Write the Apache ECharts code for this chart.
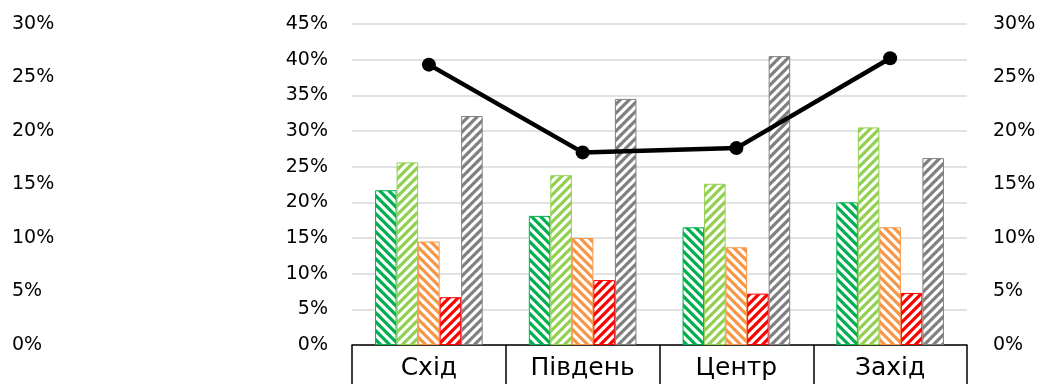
<!DOCTYPE html>
<html>
<head>
<meta charset="utf-8">
<script src="https://cdn.jsdelivr.net/npm/echarts@6/dist/echarts.min.js"></script>
<style>
html,body{margin:0;padding:0;background:#fff;}
#chart{width:1040px;height:384px;}
</style>
</head>
<body>
<div id="chart"></div>
<script>
const categories = ['Схід', 'Південь', 'Центр', 'Захід'];
const seriesGreen = [21.7, 18.1, 16.5, 20.0];
const seriesLightGreen = [25.6, 23.8, 22.6, 30.5];
const seriesOrange = [14.5, 15.0, 13.7, 16.5];
const seriesRed = [6.7, 9.1, 7.2, 7.3];
const seriesGray = [32.1, 34.5, 40.5, 26.2];
const lineValues = [26.2, 18.0, 18.4, 26.8];
const ticks30 = [0, 5, 10, 15, 20, 25, 30];
const ticks45 = [0, 5, 10, 15, 20, 25, 30, 35, 40, 45];

function hatch(color, dir) {
  const s = 9;
  const c = document.createElement('canvas');
  c.width = s; c.height = s;
  const g = c.getContext('2d');
  g.fillStyle = '#fff';
  g.fillRect(0, 0, s, s);
  g.strokeStyle = color;
  g.lineWidth = 3.2;
  g.beginPath();
  if (dir === '/') {
    g.moveTo(-1, s + 1); g.lineTo(s + 1, -1);
    g.moveTo(-s - 1, s + 1); g.lineTo(1, -1);
    g.moveTo(s - 1, s + 1); g.lineTo(2 * s + 1, -1);
  } else {
    g.moveTo(-1, -1); g.lineTo(s + 1, s + 1);
    g.moveTo(-s - 1, -1); g.lineTo(1, s + 1);
    g.moveTo(s - 1, -1); g.lineTo(2 * s + 1, s + 1);
  }
  g.stroke();
  return { image: c, repeat: 'repeat' };
}

const font = 'DejaVu Sans';
const labelStyle = { fontFamily: font, fontSize: 19, color: '#000', formatter: '{value}%' };

function bar(data, color, dir) {
  return {
    type: 'bar', yAxisIndex: 1, data: data,
    barGap: '0%', barCategoryGap: '30%',
    itemStyle: { color: hatch(color, dir), borderColor: color, borderWidth: 1 }
  };
}

const chart = echarts.init(document.getElementById('chart'), null, { renderer: 'canvas' });
chart.setOption({
  animation: false,
  grid: { left: 352, right: 73, top: 24, bottom: 39, containLabel: false },
  xAxis: {
    type: 'category', data: categories,
    axisLine: { show: true, lineStyle: { color: '#000', width: 1.5 } },
    axisTick: { show: true, length: 50, lineStyle: { color: '#000', width: 1.5 } },
    axisLabel: { fontFamily: font, fontSize: 25, color: '#000', margin: 11 }
  },
  yAxis: [
    { type: 'value', min: 0, max: 30, interval: 5, position: 'left',
      axisLine: { show: false }, axisTick: { show: false }, splitLine: { show: false },
      axisLabel: Object.assign({}, labelStyle, { align: 'left', margin: 340 }) },
    { type: 'value', min: 0, max: 45, interval: 5, position: 'left',
      axisLine: { show: false }, axisTick: { show: false },
      splitLine: { show: true, lineStyle: { color: '#d9d9d9', width: 1.5 } },
      axisLabel: Object.assign({}, labelStyle, { margin: 24 }) },
    { type: 'value', min: 0, max: 30, interval: 5, position: 'right',
      axisLine: { show: false }, axisTick: { show: false }, splitLine: { show: false },
      axisLabel: Object.assign({}, labelStyle, { align: 'left', margin: 26 }) }
  ],
  series: [
    bar(seriesGreen, '#00B050', '\\'),
    bar(seriesLightGreen, '#92D050', '/'),
    bar(seriesOrange, '#F79646', '\\'),
    bar(seriesRed, '#FF0000', '/'),
    bar(seriesGray, '#808080', '/'),
    { type: 'line', yAxisIndex: 2, data: lineValues, z: 10,
      symbol: 'circle', symbolSize: 14,
      lineStyle: { color: '#000', width: 4.5 },
      itemStyle: { color: '#000' } }
  ]
});
</script>
</body>
</html>
